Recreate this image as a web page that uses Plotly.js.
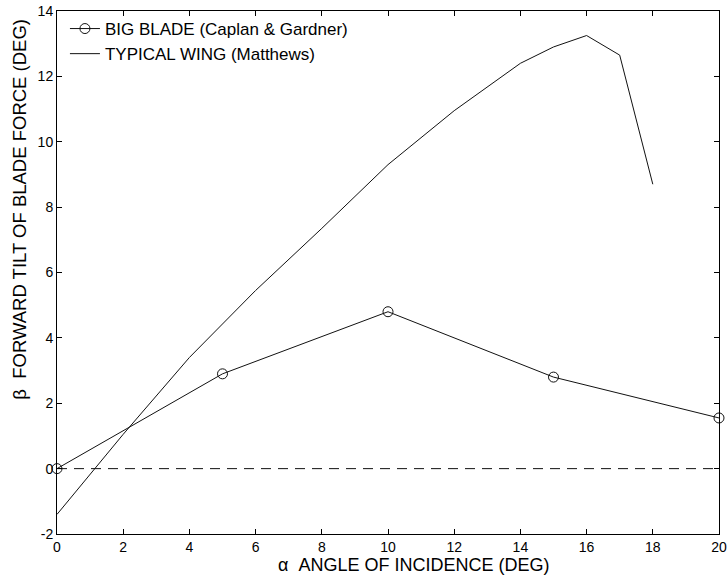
<!DOCTYPE html>
<html>
<head>
<meta charset="utf-8">
<script src="https://cdn.plot.ly/plotly-3.0.1.min.js"></script>
<style>html,body{margin:0;padding:0;background:#fff;}#chart{width:728px;height:579px;}</style>
</head>
<body>
<div id="chart"></div>
<script>
// Big blade (Caplan & Gardner)
const bladeAlpha = [0, 5, 10, 15, 20];
const bladeBeta  = [0, 2.9, 4.8, 2.8, 1.55];
// Typical wing (Matthews)
const wingAlpha = [0, 2, 4, 6, 8, 10, 12, 14, 15, 16, 17, 18];
const wingBeta  = [-1.4, 1.05, 3.4, 5.45, 7.35, 9.3, 10.95, 12.4, 12.9, 13.25, 12.65, 8.7];
// Zero reference line
const zeroAlpha = [0, 20];
const zeroBeta  = [0, 0];

const xTicks = [0, 2, 4, 6, 8, 10, 12, 14, 16, 18, 20];
const yTicks = [-2, 0, 2, 4, 6, 8, 10, 12, 14];

const xTitle = 'α\u00a0\u00a0ANGLE OF INCIDENCE (DEG)';
const yTitle = 'β\u00a0\u00a0FORWARD TILT OF BLADE FORCE (DEG)';

const FONT = 'Liberation Sans, Arial, Helvetica, sans-serif';

const data = [
  {
    x: bladeAlpha, y: bladeBeta, type: 'scatter', mode: 'lines+markers',
    name: 'BIG BLADE (Caplan &amp; Gardner)',
    line: {color: '#111', width: 1},
    marker: {symbol: 'circle-open', size: 10, color: '#111', line: {width: 1, color: '#111'}},
    cliponaxis: false
  },
  {
    x: wingAlpha, y: wingBeta, type: 'scatter', mode: 'lines',
    name: 'TYPICAL WING (Matthews)',
    line: {color: '#111', width: 1}
  },
  {
    x: zeroAlpha, y: zeroBeta, type: 'scatter', mode: 'lines',
    showlegend: false, hoverinfo: 'skip',
    line: {color: '#111', width: 1, dash: '10px,7px'}
  }
];

const layout = {
  width: 728, height: 579,
  margin: {l: 57, r: 9, t: 11, b: 45},
  paper_bgcolor: '#fff', plot_bgcolor: '#fff',
  font: {family: FONT, size: 12, color: '#000'},
  showlegend: true,
  legend: {
    x: 0.012, y: 1.0, xanchor: 'left', yanchor: 'top',
    bgcolor: 'rgba(0,0,0,0)', borderwidth: 0,
    font: {family: FONT, size: 17, color: '#000'},
    itemwidth: 30, tracegroupgap: 0
  },
  xaxis: {
    range: [0, 20], tickvals: xTicks, ticktext: xTicks.map(String),
    ticks: 'inside', ticklen: 5, tickcolor: '#000', tickwidth: 1,
    showline: true, linecolor: '#000', linewidth: 1, mirror: 'allticks',
    showgrid: false, zeroline: false,
    tickfont: {family: FONT, size: 14, color: '#000'}
  },
  yaxis: {
    range: [-2, 14], tickvals: yTicks, ticktext: yTicks.map(String),
    ticks: 'inside', ticklen: 5, tickcolor: '#000', tickwidth: 1,
    showline: true, linecolor: '#000', linewidth: 1, mirror: 'allticks',
    showgrid: false, zeroline: false,
    tickfont: {family: FONT, size: 14, color: '#000'}
  },
  annotations: [
    {
      text: xTitle, xref: 'paper', yref: 'paper',
      x: 0.5378, y: -0.0593, xanchor: 'center', yanchor: 'middle',
      showarrow: false, font: {family: FONT, size: 18, color: '#000'}
    },
    {
      text: yTitle, xref: 'paper', yref: 'paper', textangle: -90,
      x: -0.0559, y: 0.622, xanchor: 'center', yanchor: 'middle',
      showarrow: false, font: {family: FONT, size: 18.5, color: '#000'}
    }
  ]
};

Plotly.newPlot('chart', data, layout, {displayModeBar: false, staticPlot: true});
</script>
</body>
</html>
